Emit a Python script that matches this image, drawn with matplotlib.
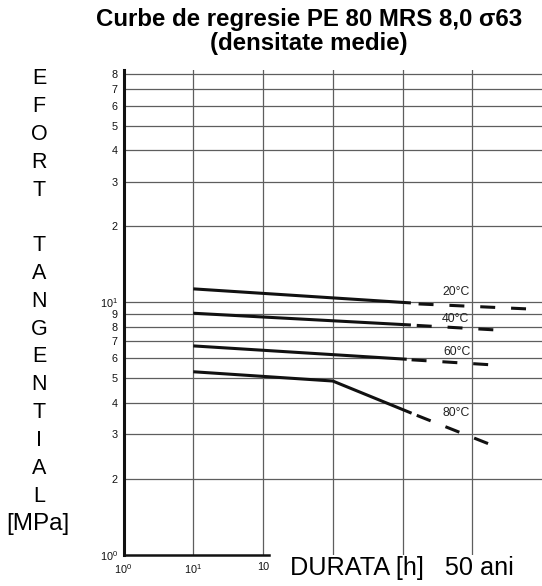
import matplotlib
matplotlib.use('Agg')
import matplotlib.pyplot as plt

plt.rcParams['font.family'] = ['Liberation Sans', 'DejaVu Sans']
plt.rcParams['mathtext.fontset'] = 'custom'
plt.rcParams['mathtext.rm'] = 'Liberation Sans'

# ---- data ----
temps = ['20°C', '40°C', '60°C', '80°C']
solid_t = [[10, 1.32e4], [10, 1.32e4], [10, 1.15e4], [10, 1000, 1.35e4]]
solid_v = [[11.3, 9.94], [9.05, 8.13], [6.72, 5.95], [5.31, 4.88, 3.64]]
dash_t = [[1.7e4, 6.4e5], [1.6e4, 2.2e5], [1.35e4, 1.8e5], [1.6e4, 1.8e5]]
dash_v = [[9.85, 9.41], [8.10, 7.77], [5.92, 5.66], [3.57, 2.74]]
label_t = [5.8e4, 5.8e4, 6.0e4, 5.8e4]
label_v = [11.0, 8.6, 6.36, 3.65]

yticks = [1, 2, 3, 4, 5, 6, 7, 8, 9, 10, 20, 30, 40, 50, 60, 70, 80]
yticklabels = [r'$\mathregular{10^0}$', '2', '3', '4', '5', '6', '7', '8', '9',
               r'$\mathregular{10^1}$', '2', '3', '4', '5', '6', '7', '8']
xticks = [1, 10, 100]
xticklabels = [r'$\mathregular{10^0}$', r'$\mathregular{10^1}$', '10']
vgrid = [10, 100, 1000, 1e4, 1e5]

W, H = 542, 586
fig = plt.figure(figsize=(W / 100, H / 100), dpi=100)
ax = fig.add_axes([123.5 / W, 1 - 555 / H, 1 - 123.5 / W, (555 - 70) / H])
ax.set_xscale('log')
ax.set_yscale('log')
ax.set_xlim(1, 1e6)
ax.set_ylim(1, 83)

gc = '#5e5e5e'
for v in yticks[1:]:
    ax.axhline(v, color=gc, lw=0.9, zorder=1)
for t in vgrid:
    ax.axvline(t, color=gc, lw=0.9, zorder=1)

for st, sv, dt, dv in zip(solid_t, solid_v, dash_t, dash_v):
    ax.plot(st, sv, color='#111111', lw=2.2, solid_capstyle='butt', zorder=3)
    ax.plot(dt, dv, color='#111111', lw=2.2, ls=(0, (4.9, 5.2)),
            dash_capstyle='butt', zorder=3)

for name, lt, lv in zip(temps, label_t, label_v):
    ax.text(lt, lv, name, fontsize=8.8, ha='center', va='center', color='#222222', zorder=4)

ax.set_yticks(yticks)
ax.set_yticklabels(yticklabels)
ax.set_xticks(xticks)
ax.set_xticklabels(xticklabels)
ax.minorticks_off()
ax.tick_params(axis='both', length=0, labelsize=7.8, pad=4, colors='#111111')
ax.tick_params(axis='x', pad=5)

for s in ['top', 'right']:
    ax.spines[s].set_visible(False)
ax.spines['left'].set_linewidth(2.2)
ax.spines['left'].set_color('#111111')
ax.spines['bottom'].set_linewidth(1.8)
ax.spines['bottom'].set_color('#111111')
ax.spines['bottom'].set_bounds(1, 122)

# title
fig.text(309 / W, 1 - 26 / H, 'Curbe de regresie PE 80 MRS 8,0 σ63',
         fontsize=17.3, fontweight='bold', ha='center', va='baseline')
fig.text(309 / W, 1 - 50 / H, '(densitate medie)',
         fontsize=17.3, fontweight='bold', ha='center', va='baseline')

# vertical y label, one letter per line
ylab = ['E', 'F', 'O', 'R', 'T', '', 'T', 'A', 'N', 'G', 'E', 'N', 'T', 'I', 'A', 'L']
for i, ch in enumerate(ylab):
    if ch:
        fig.text(39 / W, 1 - (79 + 27.8 * i) / H, ch, fontsize=15.5,
                 ha='center', va='center')
fig.text(38 / W, 1 - (79 + 27.8 * len(ylab)) / H, '[MPa]', fontsize=17.5,
         ha='center', va='center')

fig.text(290 / W, 1 - 575 / H, 'DURATA [h]   50 ani', fontsize=18.2,
         ha='left', va='baseline')

fig.savefig('out.png', dpi=100)
